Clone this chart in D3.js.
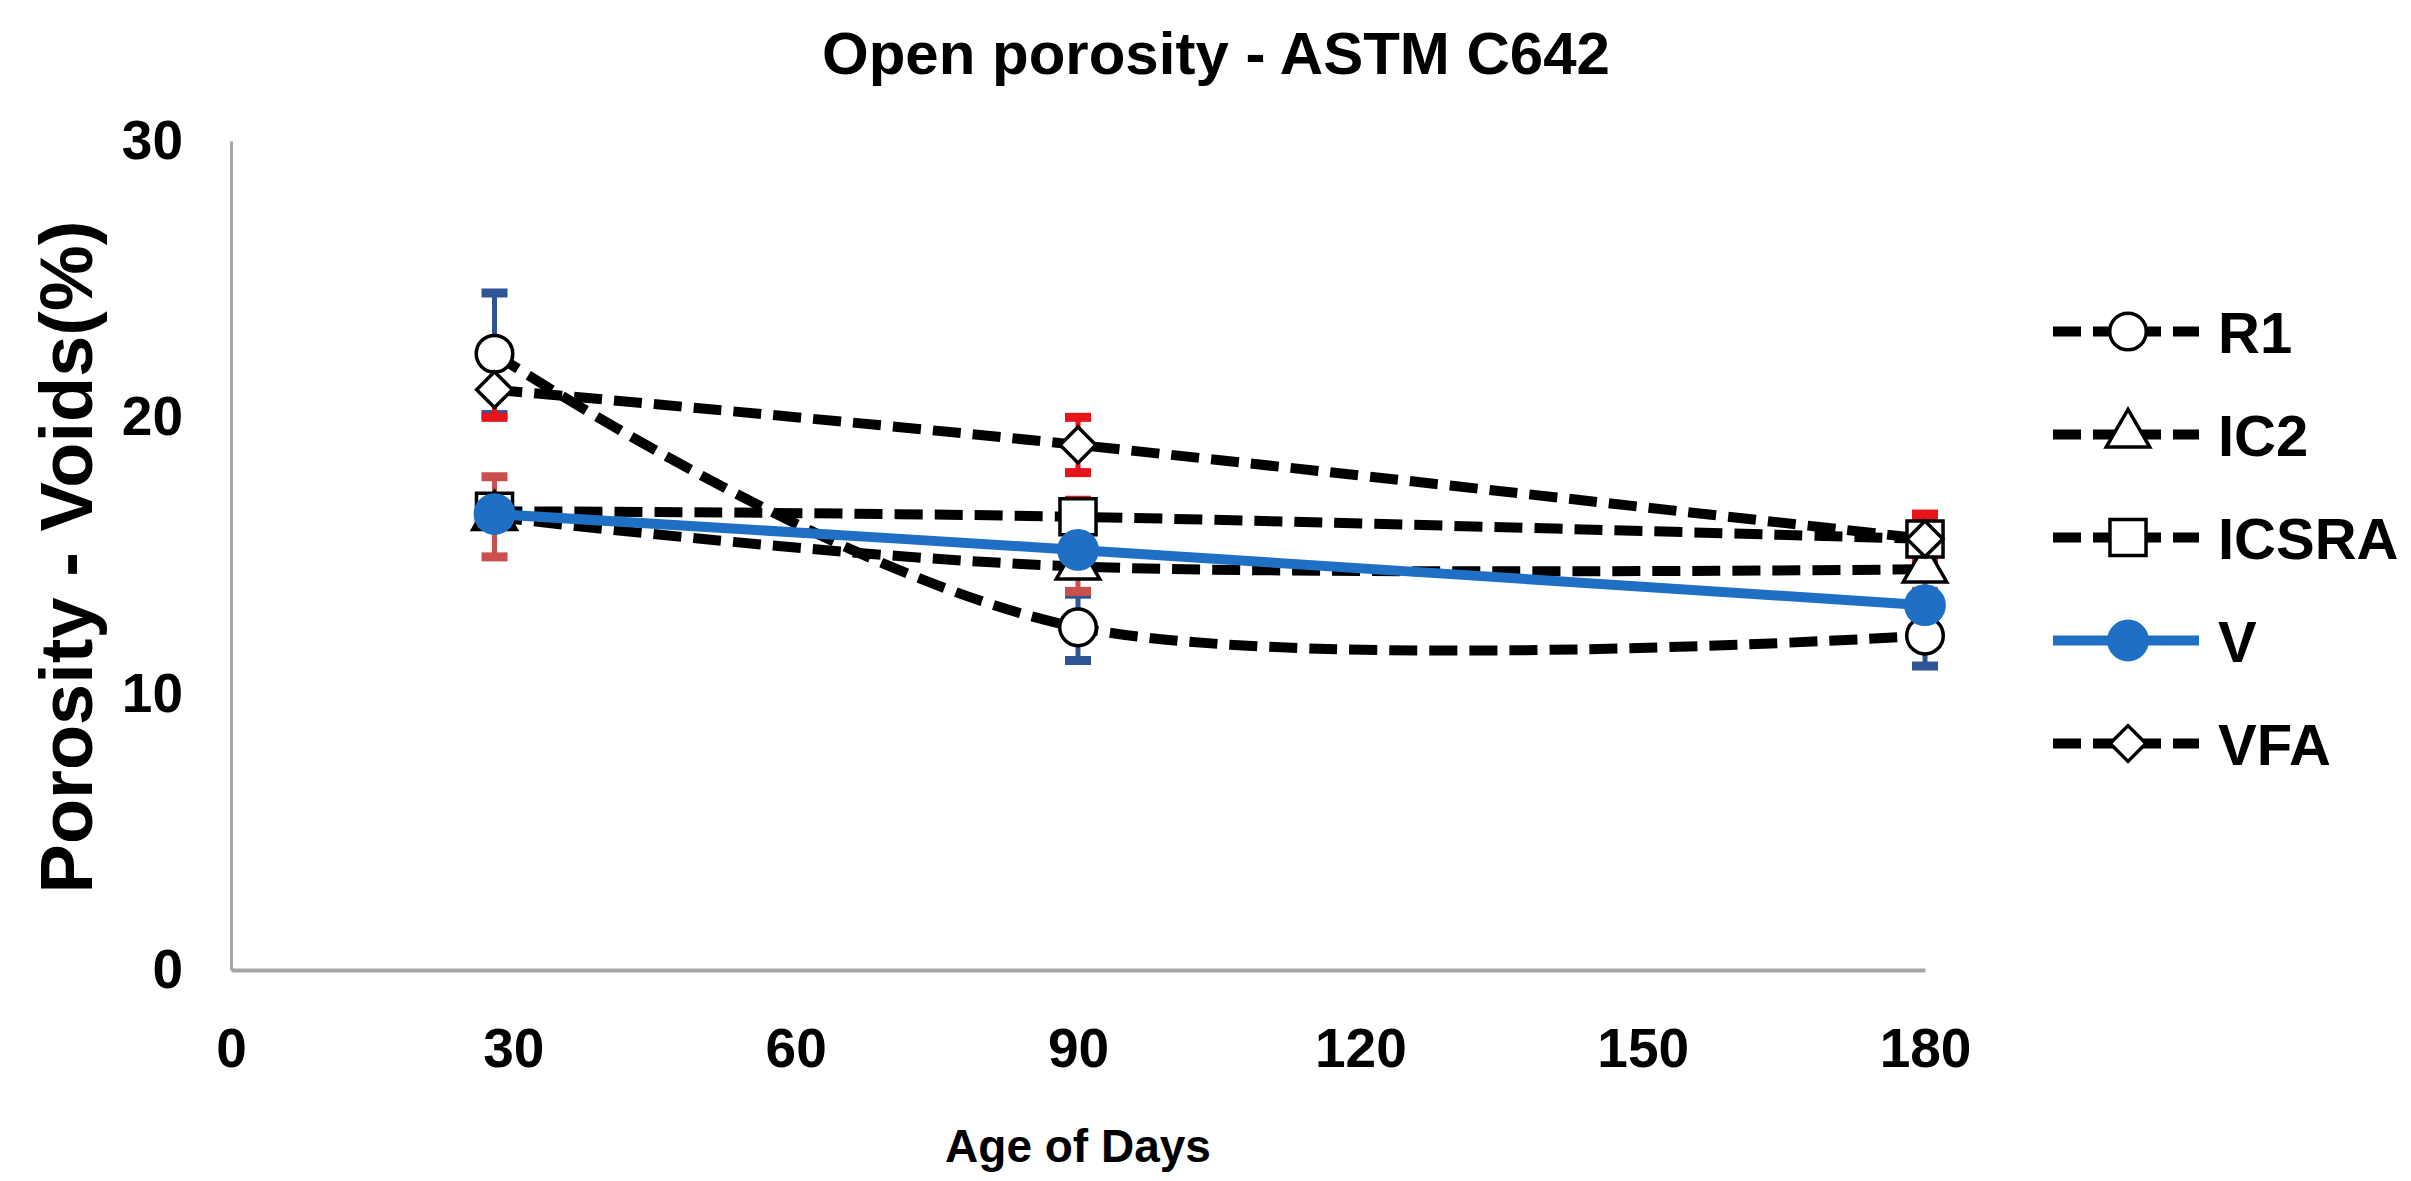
<!DOCTYPE html>
<html>
<head>
<meta charset="utf-8">
<script src="https://cdn.jsdelivr.net/npm/d3@7"></script>
<style>
  body { margin: 0; background: #fff; }
  text { font-family: "Liberation Sans", Arial, sans-serif; font-weight: bold; fill: #000; }
</style>
</head>
<body>
<svg id="chart"></svg>
<script>
// data
const days = [28, 90, 180];
const seriesNames = ["R1", "IC2", "ICSRA", "V", "VFA"];
const r1 = [22.3, 12.4, 12.1];
const ic2 = [16.4, 14.6, 14.5];
const icsra = [16.6, 16.4, 15.6];
const v = [16.5, 15.2, 13.2];
const vfa = [21.0, 19.0, 15.6];
const r1Err = [2.2, 1.2, 1.1];
const ic2Err = [1.45, 0.9, 0.8];
const icsraErr = [0.5, 0.6, 0.9];
const vErr = [0.4, 0.4, 0.4];
const vfaErr = [1.0, 1.0, 0.6];
const xTicks = [0, 30, 60, 90, 120, 150, 180];
const yTicks = [0, 10, 20, 30];

const W = 2411, H = 1181;
const margin = { top: 141, right: 486, bottom: 211, left: 231 };
const width = W - margin.left - margin.right;
const height = H - margin.top - margin.bottom;

const blue = "#1f6fc5";
const series = [
  { name: seriesNames[0], vals: r1, err: r1Err, errColor: "#2f5597", symbol: d3.symbolCircle, size: 1050, rot: 0, line: "#000", dash: "28,12", fill: "#fff" },
  { name: seriesNames[1], vals: ic2, err: ic2Err, errColor: "#c9504d", symbol: d3.symbolTriangle, size: 820, rot: 0, line: "#000", dash: "28,12", fill: "#fff" },
  { name: seriesNames[2], vals: icsra, err: icsraErr, errColor: "#e8141b", symbol: d3.symbolSquare, size: 1300, rot: 0, line: "#000", dash: "28,12", fill: "#fff" },
  { name: seriesNames[3], vals: v, err: vErr, errColor: "#2f5597", symbol: d3.symbolCircle, size: 1150, rot: 0, line: blue, dash: null, fill: blue },
  { name: seriesNames[4], vals: vfa, err: vfaErr, errColor: "#e8141b", symbol: d3.symbolSquare, size: 640, rot: 45, line: "#000", dash: "28,12", fill: "#fff" }
];

const svg = d3.select("#chart")
  .attr("width", W)
  .attr("height", H)
  .style("background", "#fff");

const g = svg.append("g")
  .attr("transform", `translate(${margin.left},${margin.top})`);

const xScale = d3.scaleLinear().domain([0, 180]).range([0, width]);
const yScale = d3.scaleLinear().domain([0, 30]).range([height, 0]);

// axes
const xAxis = g.append("g")
  .attr("transform", `translate(0,${height})`)
  .call(d3.axisBottom(xScale).tickValues(xTicks).tickSize(0).tickPadding(58));
xAxis.select(".domain").attr("stroke", "#a6a6a6").attr("stroke-width", 4);
xAxis.selectAll("text").style("font-size", "55px").attr("font-family", null);

const yAxis = g.append("g")
  .call(d3.axisLeft(yScale).tickValues(yTicks).tickSize(0).tickPadding(48));
yAxis.select(".domain").attr("stroke", "#a6a6a6").attr("stroke-width", 3);
yAxis.selectAll("text").style("font-size", "55px").attr("font-family", null);

// titles
svg.append("text")
  .attr("x", 1216).attr("y", 74)
  .attr("text-anchor", "middle")
  .style("font-size", "60px")
  .text("Open porosity - ASTM C642");

svg.append("text")
  .attr("transform", `translate(92,557) rotate(-90)`)
  .attr("text-anchor", "middle")
  .style("font-size", "74px")
  .text("Porosity - Voids(%)");

svg.append("text")
  .attr("x", 1078).attr("y", 1162)
  .attr("text-anchor", "middle")
  .style("font-size", "46px")
  .text("Age of Days");

// lines (smoothed like the spreadsheet chart)
const line = d3.line()
  .x((d, i) => xScale(days[i]))
  .y(d => yScale(d))
  .curve(d3.curveCardinal.tension(0));

const lineLayer = g.append("g");
const errLayer = g.append("g");
const markLayer = g.append("g");

series.forEach(s => {
  lineLayer.append("path")
    .datum(s.vals)
    .attr("d", line)
    .attr("fill", "none")
    .attr("stroke", s.line)
    .attr("stroke-width", 10)
    .attr("stroke-dasharray", s.dash);

  // error bars
  const eb = errLayer.selectAll(null)
    .data(s.vals.map((d, i) => ({ x: days[i], y: d, e: s.err[i] })))
    .enter().append("g");
  eb.append("line")
    .attr("x1", d => xScale(d.x)).attr("x2", d => xScale(d.x))
    .attr("y1", d => yScale(d.y - d.e)).attr("y2", d => yScale(d.y + d.e))
    .attr("stroke", s.errColor).attr("stroke-width", 5);
  [-1, 1].forEach(k => {
    eb.append("line")
      .attr("x1", d => xScale(d.x) - 13).attr("x2", d => xScale(d.x) + 13)
      .attr("y1", d => yScale(d.y + k * d.e)).attr("y2", d => yScale(d.y + k * d.e))
      .attr("stroke", s.errColor).attr("stroke-width", 9);
  });

  // markers
  markLayer.selectAll(null)
    .data(s.vals)
    .enter().append("path")
    .attr("d", d3.symbol().type(s.symbol).size(s.size))
    .attr("transform", (d, i) => `translate(${xScale(days[i])},${yScale(d)}) rotate(${s.rot})`)
    .attr("fill", s.fill)
    .attr("stroke", s.line === blue ? blue : "#000")
    .attr("stroke-width", 3.5);
});

// legend
const legend = svg.append("g").attr("transform", "translate(2053,0)");
const legendY = d3.scaleBand().domain(seriesNames).range([280, 795]);
series.forEach(s => {
  const y = legendY(s.name) + legendY.bandwidth() / 2;
  const lg = legend.append("g").attr("transform", `translate(0,${y})`);
  lg.append("line")
    .attr("x1", 0).attr("x2", 146)
    .attr("stroke", s.line).attr("stroke-width", 10)
    .attr("stroke-dasharray", s.dash);
  lg.append("path")
    .attr("d", d3.symbol().type(s.symbol).size(s.size))
    .attr("transform", `translate(75,0) rotate(${s.rot})`)
    .attr("fill", s.fill)
    .attr("stroke", s.line === blue ? blue : "#000")
    .attr("stroke-width", 3.5);
  lg.append("text")
    .attr("x", 165).attr("y", 21)
    .style("font-size", "58px")
    .text(s.name);
});
</script>
</body>
</html>
